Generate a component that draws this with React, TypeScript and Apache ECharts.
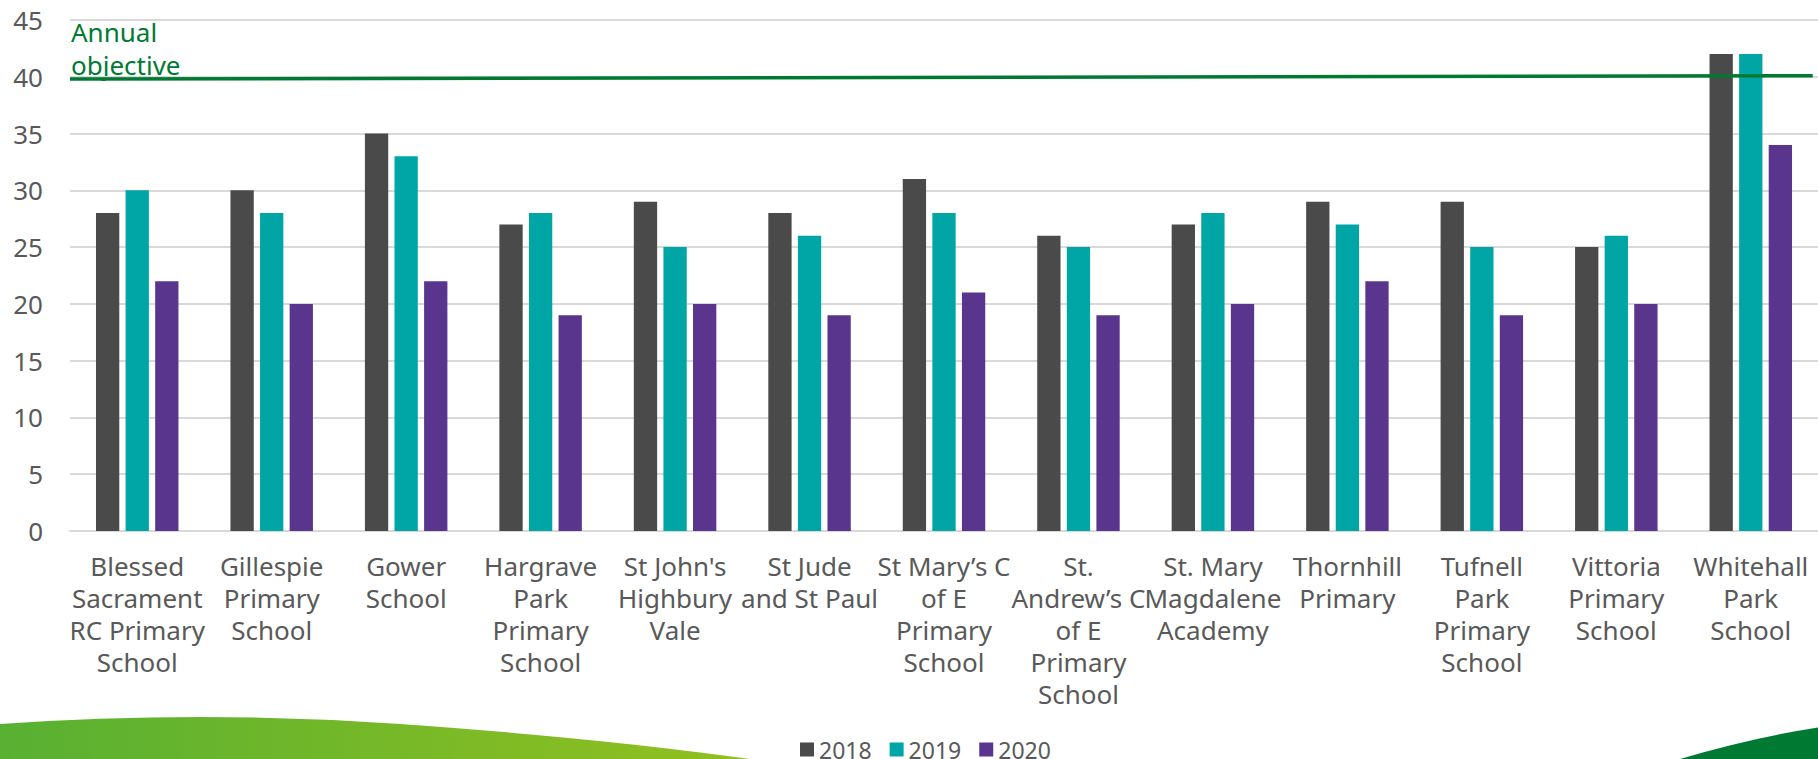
import React, { useEffect, useRef } from "react";
import * as echarts from "echarts";

const categories = [
  "Blessed\nSacrament\nRC Primary\nSchool",
  "Gillespie\nPrimary\nSchool",
  "Gower\nSchool",
  "Hargrave\nPark\nPrimary\nSchool",
  "St John's\nHighbury\nVale",
  "St Jude\nand St Paul",
  "St Mary’s C\nof E\nPrimary\nSchool",
  "St.\nAndrew’s C\nof E\nPrimary\nSchool",
  "St. Mary\nMagdalene\nAcademy",
  "Thornhill\nPrimary",
  "Tufnell\nPark\nPrimary\nSchool",
  "Vittoria\nPrimary\nSchool",
  "Whitehall\nPark\nSchool",
];

const values2018 = [28, 30, 35, 27, 29, 28, 31, 26, 27, 29, 29, 25, 42];
const values2019 = [30, 28, 33, 28, 25, 26, 28, 25, 28, 27, 25, 26, 42];
const values2020 = [22, 20, 22, 19, 20, 19, 21, 19, 20, 22, 19, 20, 34];

const seriesNames = ["2018", "2019", "2020"];
const seriesColors = ["#4a4a4a", "#00a6a6", "#5a358e"];

// annual objective line (start / end level as drawn)
const objectiveLevels = [39.8, 40.1];
const objectiveLabel = "Annual\nobjective";

const yTicks = { min: 0, max: 45, interval: 5 };

const FONT = "'Noto Sans', Tahoma, sans-serif";

echarts.graphic.registerShape(
  "hillLeft",
  echarts.graphic.extendPath(
    "M0 724 Q200 710 400 724 Q600 738 750 759 L0 759 Z",
    {}
  )
);
echarts.graphic.registerShape(
  "hillRight",
  echarts.graphic.extendPath(
    "M1680 759 Q1750 738 1818 727.5 L1818 759 Z",
    {}
  )
);

export default function App() {
  const ref = useRef<HTMLDivElement>(null);

  useEffect(() => {
    if (!ref.current) return;
    const chart = echarts.init(ref.current, undefined, { renderer: "svg" });
    const seriesData = [values2018, values2019, values2020];

    chart.setOption({
      animation: false,
      backgroundColor: "#ffffff",
      textStyle: { fontFamily: FONT },
      grid: { left: 70, right: 0, top: 20, bottom: 228, containLabel: false },
      legend: {
        data: seriesNames,
        left: 800,
        top: 738,
        padding: 0,
        itemWidth: 14,
        itemHeight: 14,
        itemGap: 18,
        icon: "rect",
        textStyle: { fontSize: 23, lineHeight: 20, color: "#595959", fontFamily: FONT },
      },
      xAxis: [
        {
          type: "category",
          data: categories,
          axisTick: { show: false },
          axisLine: { show: true, lineStyle: { color: "#d9d9d9", width: 2 } },
          axisLabel: {
            interval: 0,
            margin: 19,
            color: "#595959",
            fontSize: 26,
            lineHeight: 32,
            fontFamily: FONT,
          },
        },
        { type: "value", min: 0, max: 1, show: false },
      ],
      yAxis: {
        type: "value",
        min: yTicks.min,
        max: yTicks.max,
        interval: yTicks.interval,
        axisLine: { show: false },
        axisTick: { show: false },
        splitLine: { lineStyle: { color: "#d9d9d9", width: 2 } },
        axisLabel: {
          margin: 27,
          color: "#595959",
          fontSize: 26,
          fontFamily: FONT,
        },
      },
      series: [
        ...seriesNames.map((name, i) => ({
          name,
          type: "bar",
          data: seriesData[i],
          barWidth: 23.3,
          barGap: "27%",
          itemStyle: { color: seriesColors[i] },
        })),
        {
          name: "Annual objective",
          type: "line",
          xAxisIndex: 1,
          symbol: "none",
          lineStyle: { color: "#007a33", width: 3.5 },
          data: [
            [0, objectiveLevels[0]],
            [0.997, objectiveLevels[1]],
          ],
          z: 5,
        },
      ],
      graphic: [
        {
          type: "hillLeft",
          silent: true,
          z: -1,
          style: {
            fill: new echarts.graphic.LinearGradient(0, 0, 1, 0, [
              { offset: 0, color: "#58b032" },
              { offset: 1, color: "#92c01f" },
            ]),
          },
        },
        {
          type: "hillRight",
          silent: true,
          z: -1,
          style: { fill: "#007a33" },
        },
        {
          type: "text",
          left: 71,
          top: 15,
          style: {
            text: objectiveLabel,
            fill: "#007a33",
            fontSize: 26,
            lineHeight: 33,
            fontFamily: FONT,
          },
        },
      ],
    });

    return () => chart.dispose();
  }, []);

  return (
    <div
      ref={ref}
      style={{ position: "fixed", left: 0, top: 0, width: 1818, height: 759 }}
    />
  );
}
